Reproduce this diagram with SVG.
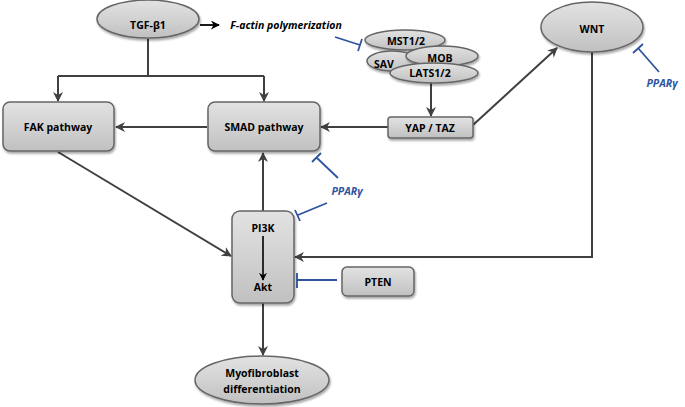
<svg xmlns="http://www.w3.org/2000/svg" width="685" height="407" viewBox="0 0 685 407">
<defs>
<linearGradient id="g" x1="0" y1="0" x2="0" y2="1">
<stop offset="0" stop-color="#e2e2e2"/>
<stop offset="0.5" stop-color="#d2d2d2"/>
<stop offset="1" stop-color="#c0c0c0"/>
</linearGradient>
<filter id="sh" x="-10%" y="-10%" width="125%" height="130%">
<feGaussianBlur in="SourceAlpha" stdDeviation="1.2"/>
<feOffset dx="1" dy="1.5" result="b"/>
<feComponentTransfer><feFuncA type="linear" slope="0.35"/></feComponentTransfer>
<feMerge><feMergeNode/><feMergeNode in="SourceGraphic"/></feMerge>
</filter>
<marker id="ar" viewBox="0 0 10 10" refX="9" refY="5" markerWidth="5" markerHeight="5" orient="auto" markerUnits="strokeWidth">
<path d="M0,0 L10,5 L0,10 L3,5 z" fill="#404040"/>
</marker>
<marker id="ak" viewBox="0 0 10 10" refX="9" refY="5" markerWidth="5" markerHeight="5" orient="auto" markerUnits="strokeWidth">
<path d="M0,0 L10,5 L0,10 L3,5 z" fill="#000"/>
</marker>
</defs>
<style>
.n{fill:url(#g);stroke:#656565;stroke-width:1.5;filter:url(#sh)}
.t{font-family:"Open Sans","Liberation Sans",sans-serif;font-weight:bold;font-size:10.5px;fill:#000;text-anchor:middle}
.c{fill:none;stroke:#404040;stroke-width:2}
.a{marker-end:url(#ar)}
.inh{fill:none;stroke:#2e54a0;stroke-width:1.8}
.p{font-family:"Open Sans","Liberation Sans",sans-serif;font-weight:bold;font-style:italic;font-size:10.5px;fill:#2e54a0;text-anchor:middle}
</style>
<g id="connectors">
<path class="c" d="M148,39 V76"/>
<path class="c" d="M58,76 H264"/>
<path class="c a" d="M58,76 V101"/>
<path class="c a" d="M264,76 V101"/>
<path class="c a" d="M207,127 H116"/>
<path class="c a" d="M388,127 H321"/>
<path class="c a" d="M431,83 V116"/>
<path class="c a" d="M473,125 L557,48"/>
<path class="c a" d="M58,152 L231,256"/>
<path class="c a" d="M263,211 V153"/>
<path class="c a" d="M592,52 V257 H295"/>
<path class="c a" d="M263,303 V355"/>
<path d="M200,25 H219" fill="none" stroke="#000" stroke-width="1.8" marker-end="url(#ak)"/>
<path class="inh" d="M335,37 L360,45 M358,51 L362,39"/>
<path class="inh" d="M659,72 L638,48 M633,53 L643,44"/>
<path class="inh" d="M338,178 L317,158 M312,162 L321,153"/>
<path class="inh" d="M327,203 L298,215 M295,210 L300,221"/>
<path class="inh" d="M337,280 H297 M297,273 V288"/>
</g>
<g id="tgf"><ellipse class="n" cx="148" cy="19" rx="51" ry="19"/><text class="t" x="148" y="29">TGF-β1</text></g>
<g id="factin"><text x="286" y="29" font-family="'Open Sans','Liberation Sans',sans-serif" font-weight="bold" font-style="italic" font-size="10.5" text-anchor="middle">F-actin polymerization</text></g>
<g id="fak"><rect class="n" x="3" y="102" width="111" height="49" rx="7"/><text class="t" x="58" y="131">FAK pathway</text></g>
<g id="smad"><rect class="n" x="208" y="102" width="112" height="49" rx="7"/><text class="t" x="264" y="131">SMAD pathway</text></g>
<g id="mst"><ellipse class="n" cx="405" cy="40" rx="40" ry="10"/><text class="t" x="406" y="45">MST1/2</text></g>
<g id="sav"><ellipse class="n" cx="392" cy="61" rx="25" ry="10"/><text class="t" x="384" y="68">SAV</text></g>
<g id="mob"><ellipse class="n" cx="442" cy="56" rx="36" ry="10"/><text class="t" x="440" y="62">MOB</text></g>
<g id="lats"><ellipse class="n" cx="434" cy="73" rx="44" ry="10"/><text class="t" x="430" y="77">LATS1/2</text></g>
<g id="yaptaz"><rect class="n" x="388" y="117" width="85" height="21" rx="3"/><text class="t" x="430" y="132">YAP / TAZ</text></g>
<g id="wnt"><ellipse class="n" cx="592" cy="27" rx="51" ry="25"/><text class="t" x="592" y="33">WNT</text></g>
<g id="ppar1"><text class="p" x="662" y="87">PPARγ</text></g>
<g id="ppar2"><text class="p" x="347" y="195">PPARγ</text></g>
<g id="pi3k"><rect class="n" x="232" y="211" width="62" height="92" rx="8"/><text class="t" x="263" y="232">PI3K</text><path d="M263,236 V280" fill="none" stroke="#000" stroke-width="1.6" marker-end="url(#ak)"/><text class="t" x="263" y="291">Akt</text></g>
<g id="pten"><rect class="n" x="342" y="267" width="72" height="29" rx="5"/><text class="t" x="378" y="286">PTEN</text></g>
<g id="myo"><ellipse class="n" cx="262" cy="380" rx="67" ry="24"/><text class="t" x="262" y="377">Myofibroblast</text><text class="t" x="262" y="393">differentiation</text></g>
</svg>
